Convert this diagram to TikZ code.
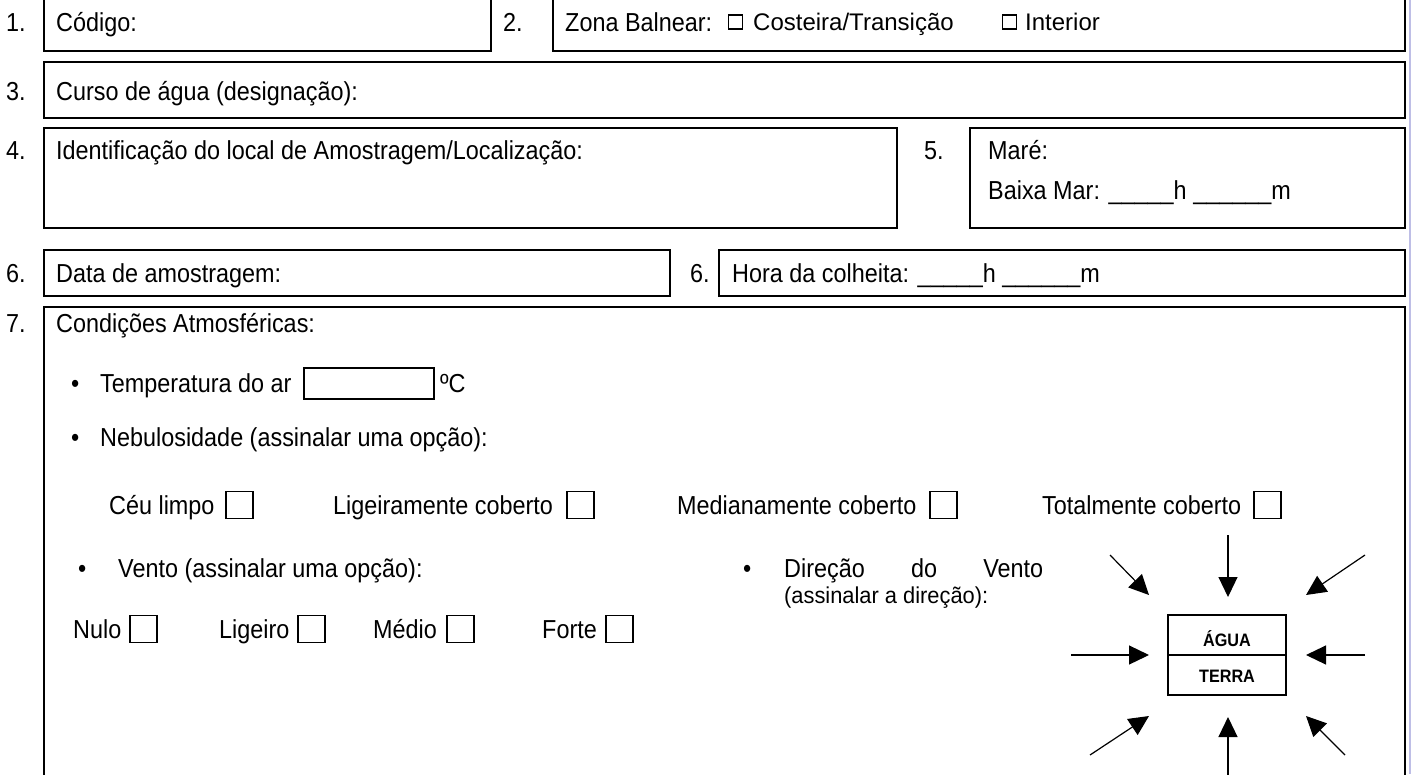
\documentclass[tikz,border=0pt]{standalone}
\usepackage{fontspec}
\setmainfont{Liberation Sans}[FakeStretch=0.9]
\newfontfamily\smallfont{Liberation Sans}[FakeStretch=1.0]
\newfontfamily\notefont{Liberation Sans}[FakeStretch=0.95]
\usetikzlibrary{arrows.meta}
\begin{document}
\begin{tikzpicture}[x=1pt,y=-1pt,
  frame/.style={draw, line width=2.4pt},
  txt/.style={anchor=west, inner sep=0pt, text height=18.6pt, text depth=0pt, font=\fontsize{26}{30}\selectfont},
  stxt/.style={anchor=west, inner sep=0pt, text height=17pt, text depth=0pt, font=\smallfont\fontsize{24}{28}\selectfont},
  ntxt/.style={anchor=west, inner sep=0pt, text height=16.5pt, text depth=0pt, font=\notefont\fontsize{23}{27}\selectfont},
  cbox/.style={draw, line width=1.5pt, minimum width=27pt, minimum height=27pt, inner sep=0pt, anchor=west},
  sbox/.style={draw, line width=1.3pt, minimum width=14pt, minimum height=14pt, inner sep=0pt, anchor=west},
  bul/.style={anchor=west, inner sep=0pt, text height=18.6pt, text depth=0pt, font=\fontsize{26}{30}\selectfont},
  btxt/.style={inner sep=0pt, text height=13pt, text depth=0pt, font=\bfseries\fontsize{18}{22}\selectfont},
  arr/.style={line width=1.2pt, -{Triangle[length=20pt,width=19pt]}}
]
\clip (0,0) rectangle (1411,774);
\fill[white] (0,0) rectangle (1411,774);
\draw[color={rgb,255:red,190;green,190;blue,230}, line width=1.5pt] (1410,0) -- (1410,774);

% Row 1
\node[txt] (n1) at (6,22) {1.};
\draw[frame] (44,-10) rectangle (491,51);
\node[txt] (codigo) at (56,22) {Código:};
\node[txt] (n2) at (503,22) {2.};
\draw[frame] (553,-10) rectangle (1405,51);
\node[txt] (zona) at (565,22) {Zona Balnear:};
\node[sbox] (cbA) at (728,22) {};
\node[stxt] (cost) at (753,22) {Costeira/Transição};
\node[sbox] (cbB) at (1002,22) {};
\node[stxt] (inter) at (1025,22) {Interior};

% Row 3
\node[txt] (n3) at (6,91) {3.};
\draw[frame] (44,62) rectangle (1405,118);
\node[txt] (curso) at (56,91) {Curso de água (designação):};

% Row 4/5
\node[txt] (n4) at (6,150) {4.};
\draw[frame] (44,128) rectangle (897,228);
\node[txt] (ident) at (56,150) {Identificação do local de Amostragem/Localização:};
\node[txt] (n5) at (924,150) {5.};
\draw[frame] (970,128) rectangle (1405,228);
\node[txt] (mare) at (988,150) {Maré:};
\node[txt] (baixa) at (988,190) {Baixa Mar: \_\_\_\_\_h \_\_\_\_\_\_m};

% Row 6
\node[txt] (n6) at (6,273) {6.};
\draw[frame] (44,250) rectangle (670,296);
\node[txt] (data) at (56,273) {Data de amostragem:};
\node[txt] (n6b) at (690,273) {6.};
\draw[frame] (719,250) rectangle (1405,296);
\node[txt] (hora) at (732,273) {Hora da colheita: \_\_\_\_\_h \_\_\_\_\_\_m};

% Row 7
\node[txt] (n7) at (6,323) {7.};
\draw[frame] (44,307) rectangle (1405,800);
\node[txt] (cond) at (56,323) {Condições Atmosféricas:};

\node[bul] (b1) at (71,383) {•};
\node[txt] (temp) at (100,383) {Temperatura do ar};
\draw[line width=1.5pt] (304,368) rectangle (434,399);
\node[txt] (graus) at (440,383) {ºC};

\node[bul] (b2) at (71,437) {•};
\node[txt] (nebul) at (100,437) {Nebulosidade (assinalar uma opção):};

\node[txt] (ceu) at (109,505) {Céu limpo};
\node[cbox] (cbCeu) at (225,505) {};
\node[txt] (lig) at (333,505) {Ligeiramente coberto};
\node[cbox] (cbLig) at (566,505) {};
\node[txt] (med) at (677,505) {Medianamente coberto};
\node[cbox] (cbMed) at (929,505) {};
\node[txt] (tot) at (1042,505) {Totalmente coberto};
\node[cbox] (cbTot) at (1253,505) {};

\node[bul] (b3) at (78,568) {•};
\node[txt] (vento) at (118,568) {Vento (assinalar uma opção):};

\node[txt] (nulo) at (73,629) {Nulo};
\node[cbox] (cbNulo) at (129,629) {};
\node[txt] (ligeiro) at (219,629) {Ligeiro};
\node[cbox] (cbLigeiro) at (297,629) {};
\node[txt] (medio) at (373,629) {Médio};
\node[cbox] (cbMedio) at (446,629) {};
\node[txt] (forte) at (542,629) {Forte};
\node[cbox] (cbForte) at (605,629) {};

\node[bul] (b4) at (743,568) {•};
\node[txt] (direc) at (784,568) {\hbox to 259pt{Direção\hfill do\hfill Vento}};
\node[ntxt] (assin) at (784,595) {(assinalar a direção):};

% Compass
\draw[line width=1.5pt] (1168,615) rectangle (1286,695);
\draw[line width=1.5pt] (1168,655) -- (1286,655);
\node[btxt] (agua) at (1227,640) {ÁGUA};
\node[btxt] (terra) at (1227,676) {TERRA};

\coordinate (nS) at (1228,535);  \coordinate (nT) at (1228,597);
\coordinate (nwS) at (1110,555); \coordinate (nwT) at (1149,595);
\coordinate (neS) at (1365,555); \coordinate (neT) at (1306,595);
\coordinate (wS) at (1071,655);  \coordinate (wT) at (1149,655);
\coordinate (eS) at (1365,655);  \coordinate (eT) at (1306,655);
\coordinate (swS) at (1090,755); \coordinate (swT) at (1149,716);
\coordinate (sS) at (1228,790);  \coordinate (sT) at (1228,717);
\coordinate (seS) at (1345,755); \coordinate (seT) at (1306,716);
\draw[arr] (nS) -- (nT);
\draw[arr] (nwS) -- (nwT);
\draw[arr] (neS) -- (neT);
\draw[arr] (wS) -- (wT);
\draw[arr] (eS) -- (eT);
\draw[arr] (swS) -- (swT);
\draw[arr] (sS) -- (sT);
\draw[arr] (seS) -- (seT);
\end{tikzpicture}
\end{document}
